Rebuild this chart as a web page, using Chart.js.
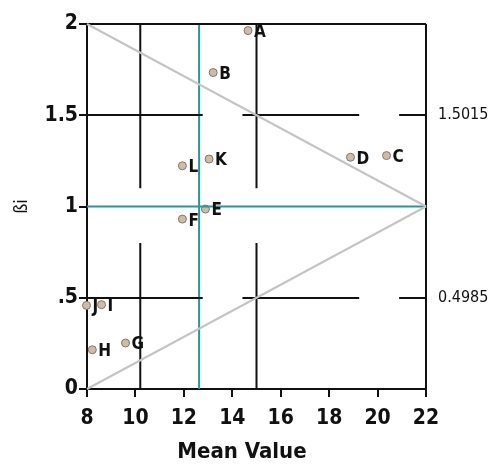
<!DOCTYPE html>
<html>
<head>
<meta charset="utf-8">
<script src="https://cdn.jsdelivr.net/npm/chart.js@4/dist/chart.umd.min.js"></script>
<style>
  html, body { margin: 0; padding: 0; background: #fff; }
  #wrap { width: 488px; height: 464px; }
</style>
</head>
<body>
<div id="wrap"><canvas id="chart1" width="488" height="464"></canvas></div>
<script>
// genotypes: mean value vs regression coefficient
const pointLabels = ['A', 'B', 'C', 'D', 'E', 'F', 'G', 'H', 'I', 'J', 'K', 'L'];
const meanValues = [14.65, 13.21, 20.37, 18.88, 12.89, 11.94, 9.59, 8.22, 8.6, 7.98, 13.04, 11.94];
const betaValues = [1.964, 1.734, 1.279, 1.27, 0.986, 0.931, 0.252, 0.215, 0.462, 0.458, 1.26, 1.223];

const xTicks = [8, 10, 12, 14, 16, 18, 20, 22];
const yTicks = [0, 0.5, 1, 1.5, 2];
const yTickLabels = ['0', '.5', '1', '1.5', '2'];
const rightTicks = [1.5015, 0.4985];

// reference segments, in data units
const blackSegments = [
    [[8, 2], [22, 2]],
    [[22, 0], [22, 2]],
    [[10.2, 2], [10.2, 1.1]],
    [[10.2, 0.8], [10.2, 0]],
    [[15, 2], [15, 1.1]],
    [[15, 0.8], [15, 0]],
    [[8, 1.5015], [12.78, 1.5015]],
    [[14.42, 1.5015], [19.24, 1.5015]],
    [[20.89, 1.5015], [22, 1.5015]],
    [[8, 0.4985], [12.78, 0.4985]],
    [[14.42, 0.4985], [19.24, 0.4985]],
    [[20.89, 0.4985], [22, 0.4985]]
];
const tealSegments = [
    [[12.63, 0], [12.63, 2]],
    [[8, 1], [22, 1]]
];
const graySegments = [
    [[8, 2], [22, 1]],
    [[8, 0], [22, 1]]
];

const FONT = "'Liberation Sans Narrow', 'DejaVu Sans Condensed', 'Liberation Sans', sans-serif";

function segDataset(seg, color) {
    return {
        type: 'scatter',
        data: seg.map(p => ({ x: p[0], y: p[1] })),
        showLine: true,
        borderColor: color,
        borderWidth: 2,
        pointRadius: 0,
        clip: false
    };
}

var datasets = [];
graySegments.forEach(s => datasets.push(segDataset(s, '#c4c4c4')));
blackSegments.forEach(s => datasets.push(segDataset(s, '#111111')));
tealSegments.forEach(s => datasets.push(segDataset(s, '#2a9696')));

datasets.push({
    type: 'scatter',
    data: meanValues.map((v, i) => ({ x: v, y: betaValues[i] })),
    backgroundColor: '#cdbcac',
    borderColor: '#85766b',
    borderWidth: 1,
    pointRadius: 4,
    clip: false
});
const pointsIndex = datasets.length - 1;

const letterPlugin = {
    id: 'letters',
    afterDatasetsDraw(chart) {
        const ctx = chart.ctx;
        const meta = chart.getDatasetMeta(pointsIndex);
        ctx.save();
        ctx.font = "bold 17px " + FONT;
        ctx.fillStyle = '#111';
        ctx.textBaseline = 'middle';
        ctx.textAlign = 'left';
        meta.data.forEach((el, i) => {
            ctx.fillText(pointLabels[i], el.x + 6, el.y + 2);
        });
        // x axis title, sits a little left of centre in the original
        const xs = chart.scales.x;
        ctx.font = "bold 22px " + FONT;
        ctx.textAlign = 'center';
        ctx.fillText('Mean Value', xs.getPixelForValue(14.4), 452);
        ctx.restore();
    }
};

var ctx = document.getElementById('chart1').getContext('2d');
var chart = new Chart(ctx, {
    type: 'scatter',
    data: { datasets: datasets },
    options: {
        responsive: false,
        animation: false,
        layout: { padding: { top: 24 } },
        plugins: {
            legend: { display: false },
            tooltip: { enabled: false }
        },
        scales: {
            x: {
                type: 'linear',
                min: 8,
                max: 22,
                afterBuildTicks: s => { s.ticks = xTicks.map(v => ({ value: v })); },
                afterFit: s => { s.height = 75; },
                border: { color: '#111', width: 2 },
                grid: { drawOnChartArea: false, tickLength: 8, color: '#111', lineWidth: 2 },
                ticks: {
                    color: '#111',
                    padding: 9,
                    font: { family: FONT, size: 21, weight: 'bold' },
                    maxRotation: 0
                }
            },
            y: {
                type: 'linear',
                min: 0,
                max: 2,
                afterBuildTicks: s => { s.ticks = yTicks.map(v => ({ value: v })); },
                afterFit: s => { s.width = 87; },
                border: { color: '#111', width: 2 },
                grid: { drawOnChartArea: false, tickLength: 8, color: '#111', lineWidth: 2 },
                ticks: {
                    color: '#111',
                    padding: 1,
                    font: { family: FONT, size: 21, weight: 'bold' },
                    callback: function(v) {
                        return yTickLabels[yTicks.indexOf(v)];
                    }
                },
                title: {
                    display: true,
                    text: 'ßi',
                    color: '#111',
                    padding: { top: 12, bottom: 0 },
                    font: { family: FONT, size: 18 }
                }
            },
            y2: {
                type: 'linear',
                position: 'right',
                min: 0,
                max: 2,
                afterBuildTicks: s => { s.ticks = rightTicks.map(v => ({ value: v })); },
                afterFit: s => { s.width = 62; },
                border: { display: false },
                grid: { drawOnChartArea: false, drawTicks: false },
                ticks: {
                    color: '#111',
                    padding: 12,
                    font: { family: FONT, size: 16 },
                    callback: v => v.toFixed(4)
                }
            }
        }
    },
    plugins: [letterPlugin]
});
</script>
</body>
</html>
